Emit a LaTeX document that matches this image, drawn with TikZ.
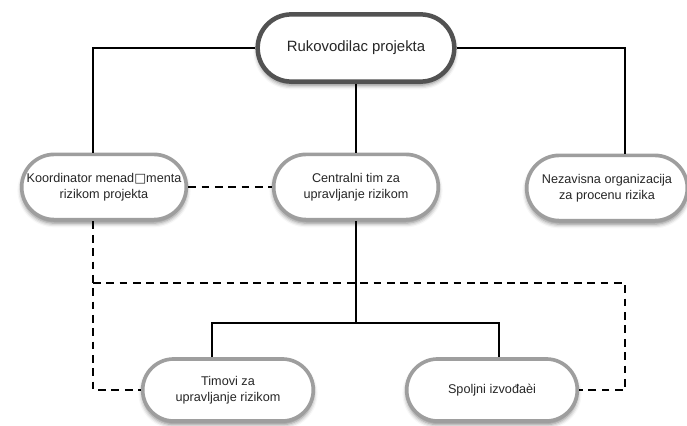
\documentclass[tikz,border=0pt]{standalone}
\usepackage{fontspec}
\setmainfont{Liberation Sans}
\newfontfamily\simbol{DejaVu Sans}
\usetikzlibrary{shapes.misc,shadows.blur}

\tikzset{
  okvir/.style={rounded rectangle, draw=black!38, line width=2.6pt, fill=white,
    align=center, text=black!85, font=\fontsize{9}{11.2}\selectfont,
    minimum width=4.35cm, minimum height=1.63cm,
    blur shadow={shadow xshift=0pt, shadow yshift=-2.5pt, shadow blur radius=3pt, shadow opacity=50}},
  glavni/.style={okvir, draw=black!68, line width=3.2pt, font=\fontsize{10.6}{13}\selectfont},
  veza/.style={line width=1.6pt},
  isprek/.style={line width=1.5pt, dash pattern=on 5.5pt off 4pt}
}

\begin{document}
\begin{tikzpicture}[x=0.025cm, y=-0.025cm]
  \useasboundingbox (0,0) rectangle (687,426);

  % cvorovi
  \node[glavni, minimum width=5.15cm, minimum height=1.68cm] (ruk) at (356,48) {Rukovodilac projekta};
  \node[okvir] (koord) at (104,187) {Koordinator menad{\simbol □}menta\\rizikom projekta};
  \node[okvir] (cent) at (356,187) {Centralni tim za\\upravljanje rizikom};
  \node[okvir, minimum width=4.25cm] (nez) at (607,188) {Nezavisna organizacija\\za procenu rizika};
  \node[okvir, minimum width=4.5cm, minimum height=1.55cm] (tim) at (228,390) {Timovi za\\upravljanje rizikom};
  \node[okvir, minimum width=4.5cm, minimum height=1.55cm] (spolj) at (492,390) {Spoljni izvođaèi};

  % tacke za vertikale
  \coordinate (lkol) at (93,283);
  \coordinate (dkol) at (625,283);
  \coordinate (lgr) at (212,323);
  \coordinate (dgr) at (499,323);

  % pune veze
  \draw[veza] (ruk.west) -| (lkol |- koord.north);
  \draw[veza] (ruk.east) -| (dkol |- nez.north);
  \draw[veza] (ruk.south) -- (cent.north);
  \draw[veza] (cent.south) -- (cent.south |- lgr);
  \draw[veza] (lgr |- tim.north) -- (lgr) -- (dgr) -- (dgr |- spolj.north);

  % isprekidane veze
  \draw[isprek] (koord.east) -- (cent.west);
  \draw[isprek] (lkol |- koord.south) |- (tim.west);
  \draw[isprek] (lkol) -- (dkol) |- (spolj.east);
\end{tikzpicture}
\end{document}
